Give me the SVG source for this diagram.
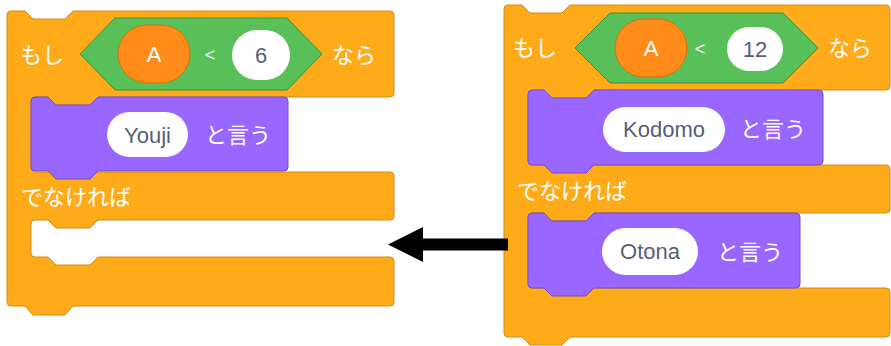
<svg xmlns="http://www.w3.org/2000/svg" width="891" height="346" viewBox="0 0 891 346">
<defs>
<style>
.ctrl{fill:#FFAB19;stroke:#CF8B17;stroke-width:1}
.looks{fill:#9966FF;stroke:#774DCB;stroke-width:1}
.op{fill:#59C059;stroke:#389438;stroke-width:1}
.var{fill:#FF8C1A;stroke:#DB6E00;stroke-width:1}
.pill{fill:#FFFFFF}
.lbl{fill:#FFFFFF;font-family:"Liberation Sans","Noto Sans CJK JP",sans-serif;font-size:22px}
.jp{fill:#FFFFFF;font-family:"Noto Sans CJK JP","Liberation Sans",sans-serif;font-size:22px}
.val{fill:#575E75;font-family:"Liberation Sans","Noto Sans CJK JP",sans-serif;font-size:22px;text-anchor:middle}
.mid{text-anchor:middle}
</style>
<marker id="ah" viewBox="0 0 10 10" refX="1" refY="5" markerWidth="1" markerHeight="1" orient="auto"><path d="M0 0 L10 5 L0 10 Z" fill="#000"/></marker>
</defs>
<rect x="0" y="0" width="891" height="346" fill="#FFFFFF"/>

<g id="left-ifelse">
<path class="ctrl" d="M7 15 Q7 11 11 11 L25 11 L33 19 L65 19 L73 11 L390 11 Q394 11 394 15 L394 93 Q394 97 390 97 L98 97 L90 105 L56 105 L48 97 L35 97 Q31 97 31 101 L31 168 Q31 172 35 172 L390 172 Q394 172 394 176 L394 216 Q394 220 390 220 L98 220 L90 228 L56 228 L48 220 L35 220 Q31 220 31 224 L31 253 Q31 257 35 257 L48 257 L56 265 L90 265 L98 257 L390 257 Q394 257 394 261 L394 302 Q394 306 390 306 L73 306 L65 315 L33 315 L25 306 L11 306 Q7 306 7 302 Z"/>
<text class="jp" x="20" y="63">もし</text>
<text class="jp" x="332" y="63">なら</text>
<text class="jp" x="21" y="205">でなければ</text>
</g>

<g id="left-condition">
<polygon class="op" points="80,54 115,18 287,18 322,54 287,90 115,90"/>
<rect class="var" x="118" y="25" width="72" height="58" rx="29"/>
<text class="lbl mid" x="154" y="62">A</text>
<text class="lbl mid" x="210" y="61" style="font-size:18px">&lt;</text>
<rect class="pill" x="232" y="30" width="58" height="50" rx="25"/>
<text class="val" x="261" y="63">6</text>
</g>

<g id="left-say">
<path class="looks" d="M31 101 Q31 97 35 97 L48 97 L56 105 L90 105 L98 97 L284 97 Q288 97 288 101 L288 167 Q288 171 284 171 L98 171 L90 179 L56 179 L48 171 L35 171 Q31 171 31 167 Z"/>
<rect class="pill" x="107" y="112" width="81" height="45" rx="22.5"/>
<text class="val" x="147.5" y="143">Youji</text>
<text class="jp" x="205" y="143">と言う</text>
</g>

<g id="right-ifelse">
<path class="ctrl" d="M504 9 Q504 5 508 5 L522 5 L530 13 L562 13 L570 5 L886 5 Q890 5 890 9 L890 86 Q890 90 886 90 L594 90 L586 98 L552 98 L544 90 L532 90 Q528 90 528 94 L528 161 Q528 165 532 165 L886 165 Q890 165 890 169 L890 209 Q890 213 886 213 L594 213 L586 221 L552 221 L544 213 L532 213 Q528 213 528 217 L528 284 Q528 288 532 288 L886 288 Q890 288 890 292 L890 333 Q890 337 886 337 L570 337 L562 345 L530 345 L522 337 L508 337 Q504 337 504 333 Z"/>
<text class="jp" x="513" y="56">もし</text>
<text class="jp" x="828" y="56">なら</text>
<text class="jp" x="517" y="199">でなければ</text>
</g>

<g id="right-condition">
<polygon class="op" points="575,48 610,13 783,13 818,48 783,83 610,83"/>
<rect class="var" x="615" y="19" width="72" height="58" rx="29"/>
<text class="lbl mid" x="651" y="56">A</text>
<text class="lbl mid" x="700" y="55" style="font-size:18px">&lt;</text>
<rect class="pill" x="727" y="27" width="56" height="44" rx="22"/>
<text class="val" x="755" y="57">12</text>
</g>

<g id="right-say-kodomo">
<path class="looks" d="M528 94 Q528 90 532 90 L544 90 L552 98 L586 98 L594 90 L819 90 Q823 90 823 94 L823 161 Q823 165 819 165 L594 165 L586 173 L552 173 L544 165 L532 165 Q528 165 528 161 Z"/>
<rect class="pill" x="603" y="107" width="122" height="45" rx="22.5"/>
<text class="val" x="664" y="137">Kodomo</text>
<text class="jp" x="740" y="137">と言う</text>
</g>

<g id="right-say-otona">
<path class="looks" d="M528 217 Q528 213 532 213 L544 213 L552 221 L586 221 L594 213 L796 213 Q800 213 800 217 L800 284 Q800 288 796 288 L594 288 L586 296 L552 296 L544 288 L532 288 Q528 288 528 284 Z"/>
<rect class="pill" x="602" y="228" width="96" height="47" rx="23.5"/>
<text class="val" x="650" y="259">Otona</text>
<text class="jp" x="717" y="260">と言う</text>
</g>

<g id="connectors">
<line x1="508" y1="244.5" x2="421" y2="244.5" stroke="#000" stroke-width="12"/>
<polygon points="388,244.5 423,227 423,262" fill="#000"/>
</g>
</svg>
